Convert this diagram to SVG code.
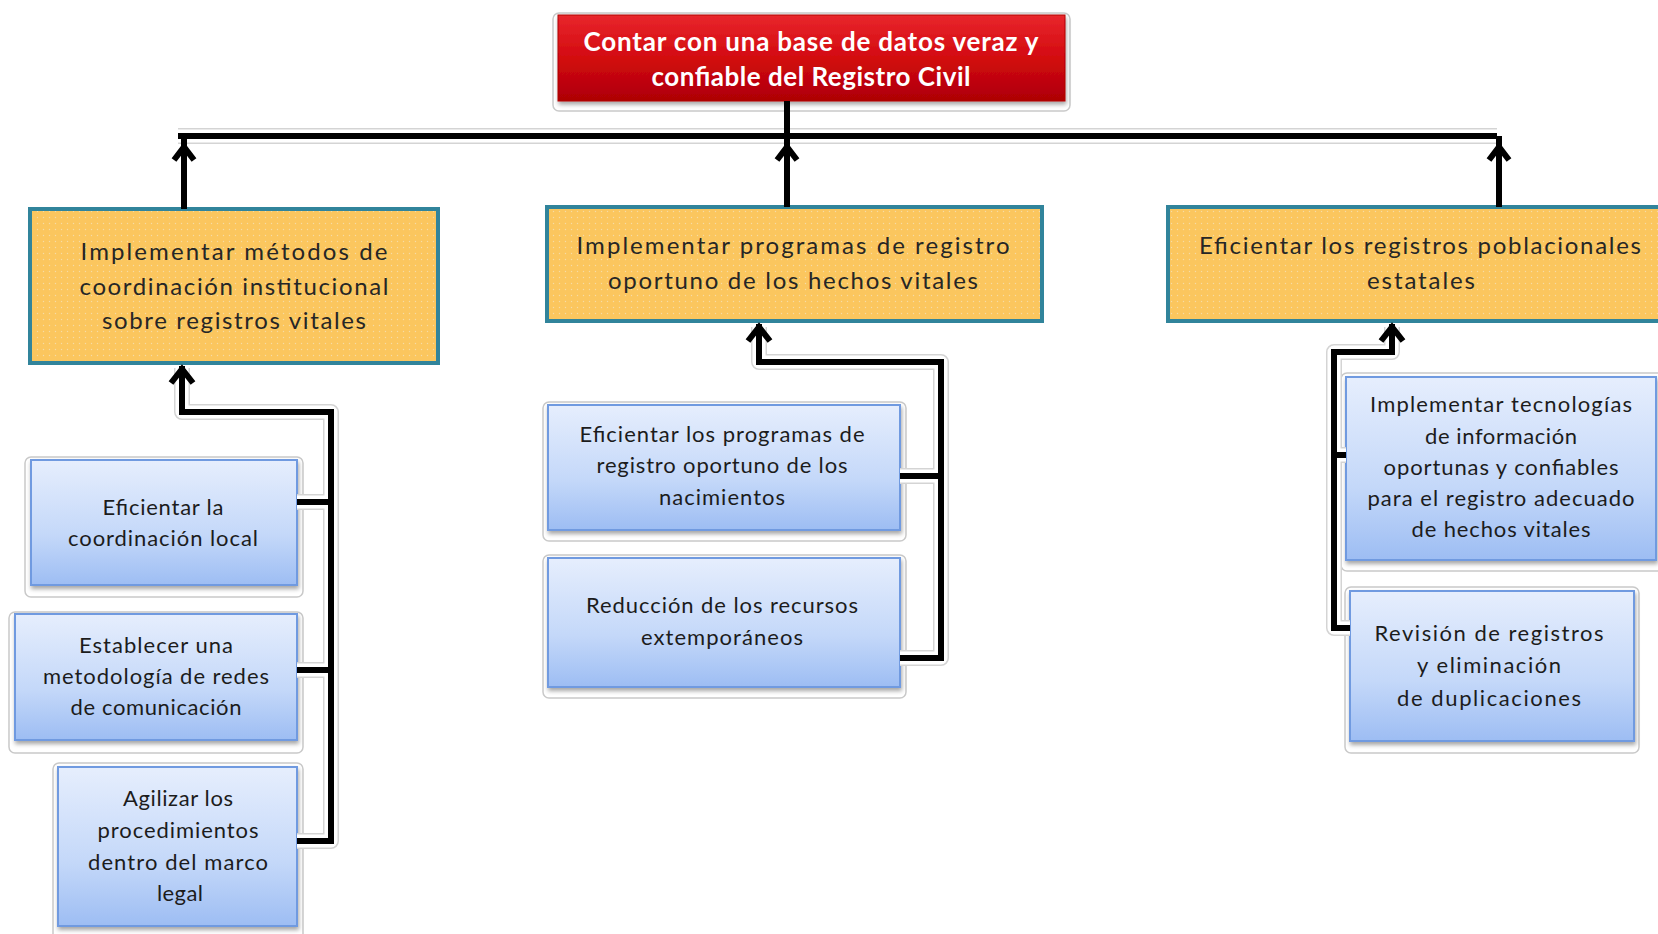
<svg xmlns="http://www.w3.org/2000/svg" width="1658" height="934" viewBox="0 0 1658 934">
<defs>
  <linearGradient id="redG" x1="0" y1="0" x2="0" y2="1">
    <stop offset="0" stop-color="#e8262c"/>
    <stop offset="0.5" stop-color="#d30a10"/>
    <stop offset="1" stop-color="#ad0005"/>
  </linearGradient>
  <linearGradient id="blueG" x1="0" y1="0" x2="0" y2="1">
    <stop offset="0" stop-color="#e6eefd"/>
    <stop offset="0.6" stop-color="#c4d8f9"/>
    <stop offset="1" stop-color="#9dbdf3"/>
  </linearGradient>
  <pattern id="dots" width="6" height="6" patternUnits="userSpaceOnUse">
    <rect width="6" height="6" fill="#fbc65e"/>
    <circle cx="1.5" cy="1.5" r="0.7" fill="#f6dca6"/>
  </pattern>
  <filter id="sh" x="-10%" y="-10%" width="120%" height="130%">
    <feDropShadow dx="1" dy="3" stdDeviation="2" flood-color="#000" flood-opacity="0.35"/>
  </filter>
</defs>
<style>
  .frame{fill:#fff;stroke:#c9c9c9;stroke-width:1.5}
  .blue{fill:url(#blueG);stroke:#6f9ae0;stroke-width:2;filter:url(#sh)}
  .orange{fill:url(#dots);stroke:#31849b;stroke-width:4}
  .red{fill:url(#redG);stroke:#b00000;stroke-width:1;filter:url(#sh)}
  .t{font-family:Lato,"Liberation Sans",sans-serif;text-anchor:middle;fill:#1c1c1c}
  .tb{font-size:22px}
  .to{font-size:24px;fill:#262626}
  .tr{font-size:26px;font-weight:bold;fill:#fff}
  .halo{fill:none;stroke:#d4d4d4;stroke-width:16;stroke-linejoin:round}
  .haloin{fill:none;stroke:#fff;stroke-width:13;stroke-linejoin:round}
  .line{fill:none;stroke:#000;stroke-width:6;stroke-linejoin:miter}
  .arrow{fill:none;stroke:#000;stroke-width:6;stroke-linejoin:miter;stroke-miterlimit:10}
</style>
<rect width="1658" height="934" fill="#fff"/>

<g id="goal">
  <rect class="frame" x="553" y="13" width="517" height="98" rx="6"/>
  <rect class="red" x="558" y="15" width="507" height="86"/>
  <text class="t tr" x="811" y="51" textLength="455" lengthAdjust="spacing">Contar con una base de datos veraz y</text>
  <text class="t tr" x="811" y="86" textLength="319" lengthAdjust="spacing">confiable del Registro Civil</text>
</g>

<g id="obj1">
  <rect class="orange" x="30" y="209" width="408" height="154"/>
  <text class="t to" x="234" y="260" textLength="307" lengthAdjust="spacing">Implementar métodos de</text>
  <text class="t to" x="234" y="295" textLength="309" lengthAdjust="spacing">coordinación institucional</text>
  <text class="t to" x="234" y="329" textLength="264" lengthAdjust="spacing">sobre registros vitales</text>
</g>

<g id="obj2">
  <rect class="orange" x="547" y="207" width="495" height="114"/>
  <text class="t to" x="793" y="254" textLength="433" lengthAdjust="spacing">Implementar programas de registro</text>
  <text class="t to" x="793" y="289" textLength="370" lengthAdjust="spacing">oportuno de los hechos vitales</text>
</g>

<g id="obj3">
  <rect class="orange" x="1168" y="207" width="520" height="114"/>
  <text class="t to" x="1420" y="254" textLength="442" lengthAdjust="spacing">Eficientar los registros poblacionales</text>
  <text class="t to" x="1421" y="289" textLength="108" lengthAdjust="spacing">estatales</text>
</g>

<g id="a1">
  <rect class="frame" x="25" y="457" width="278" height="140" rx="6"/>
  <rect class="blue" x="31" y="460" width="266" height="125"/>
  <text class="t tb" x="163" y="515" textLength="121" lengthAdjust="spacing">Eficientar la</text>
  <text class="t tb" x="163" y="546" textLength="190" lengthAdjust="spacing">coordinación local</text>
</g>

<g id="a2">
  <rect class="frame" x="9" y="612" width="294" height="141" rx="6"/>
  <rect class="blue" x="15" y="614" width="282" height="126"/>
  <text class="t tb" x="156" y="653" textLength="154" lengthAdjust="spacing">Establecer una</text>
  <text class="t tb" x="156" y="684" textLength="226" lengthAdjust="spacing">metodología de redes</text>
  <text class="t tb" x="156" y="715" textLength="171" lengthAdjust="spacing">de comunicación</text>
</g>

<g id="a3">
  <rect class="frame" x="53" y="763" width="250" height="180" rx="6"/>
  <rect class="blue" x="58" y="767" width="239" height="159"/>
  <text class="t tb" x="178" y="806" textLength="110" lengthAdjust="spacing">Agilizar los</text>
  <text class="t tb" x="178" y="838" textLength="161" lengthAdjust="spacing">procedimientos</text>
  <text class="t tb" x="178" y="870" textLength="180" lengthAdjust="spacing">dentro del marco</text>
  <text class="t tb" x="180" y="901" textLength="46" lengthAdjust="spacing">legal</text>
</g>

<g id="b1">
  <rect class="frame" x="543" y="402" width="363" height="139" rx="6"/>
  <rect class="blue" x="548" y="405" width="352" height="125"/>
  <text class="t tb" x="722" y="442" textLength="285" lengthAdjust="spacing">Eficientar los programas de</text>
  <text class="t tb" x="722" y="473" textLength="251" lengthAdjust="spacing">registro oportuno de los</text>
  <text class="t tb" x="722" y="505" textLength="126" lengthAdjust="spacing">nacimientos</text>
</g>

<g id="b2">
  <rect class="frame" x="543" y="555" width="363" height="143" rx="6"/>
  <rect class="blue" x="548" y="558" width="352" height="129"/>
  <text class="t tb" x="722" y="613" textLength="272" lengthAdjust="spacing">Reducción de los recursos</text>
  <text class="t tb" x="722" y="645" textLength="162" lengthAdjust="spacing">extemporáneos</text>
</g>

<g id="c1">
  <rect class="frame" x="1341" y="373" width="330" height="198" rx="6"/>
  <rect class="blue" x="1346" y="377" width="310" height="183"/>
  <text class="t tb" x="1501" y="412" textLength="262" lengthAdjust="spacing">Implementar tecnologías</text>
  <text class="t tb" x="1501" y="444" textLength="152" lengthAdjust="spacing">de información</text>
  <text class="t tb" x="1501" y="475" textLength="235" lengthAdjust="spacing">oportunas y confiables</text>
  <text class="t tb" x="1501" y="506" textLength="267" lengthAdjust="spacing">para el registro adecuado</text>
  <text class="t tb" x="1501" y="537" textLength="179" lengthAdjust="spacing">de hechos vitales</text>
</g>

<g id="c2">
  <rect class="frame" x="1345" y="587" width="294" height="166" rx="6"/>
  <rect class="blue" x="1350" y="591" width="284" height="150"/>
  <text class="t tb" x="1489" y="641" textLength="229" lengthAdjust="spacing">Revisión de registros</text>
  <text class="t tb" x="1489" y="673" textLength="144" lengthAdjust="spacing">y eliminación</text>
  <text class="t tb" x="1489" y="706" textLength="184" lengthAdjust="spacing">de duplicaciones</text>
</g>

<g id="connectors">
  <!-- halos -->
  <path class="halo" d="M178 136 H1497"/>
  <path class="halo" d="M182 368 V412 H331 V841 H297 M297 502 H331 M297 670 H331"/>
  <path class="halo" d="M759 327 V362 H941 V658 H900 M900 476 H941"/>
  <path class="halo" d="M1392 327 V352 H1334 V628 H1350 M1334 455 H1346"/>
  <path class="haloin" d="M178 136 H1497"/>
  <path class="haloin" d="M182 368 V412 H331 V841 H297 M297 502 H331 M297 670 H331"/>
  <path class="haloin" d="M759 327 V362 H941 V658 H900 M900 476 H941"/>
  <path class="haloin" d="M1392 327 V352 H1334 V628 H1350 M1334 455 H1346"/>

  <!-- top level -->
  <path class="line" d="M787 101 V136"/>
  <path class="line" d="M178 136 H1497"/>
  <path class="line" d="M184 209 V136"/>
  <path class="arrow" d="M174 160 L184 147 L194 160"/>
  <path class="line" d="M787 207 V136"/>
  <path class="arrow" d="M777 160 L787 147 L797 160"/>
  <path class="line" d="M1499 207 V136"/>
  <path class="arrow" d="M1489 160 L1499 147 L1509 160"/>

  <!-- left group -->
  <path class="line" d="M182 366 V412 H331 V841 H297 M297 502 H331 M297 670 H331"/>
  <path class="arrow" d="M171 383 L182 369 L193 383"/>

  <!-- middle group -->
  <path class="line" d="M759 324 V362 H941 V658 H900 M900 476 H941"/>
  <path class="arrow" d="M748 341 L759 327 L770 341"/>

  <!-- right group -->
  <path class="line" d="M1392 324 V352 H1334 V628 H1350 M1334 455 H1346"/>
  <path class="arrow" d="M1381 341 L1392 327 L1403 341"/>
</g>
</svg>
